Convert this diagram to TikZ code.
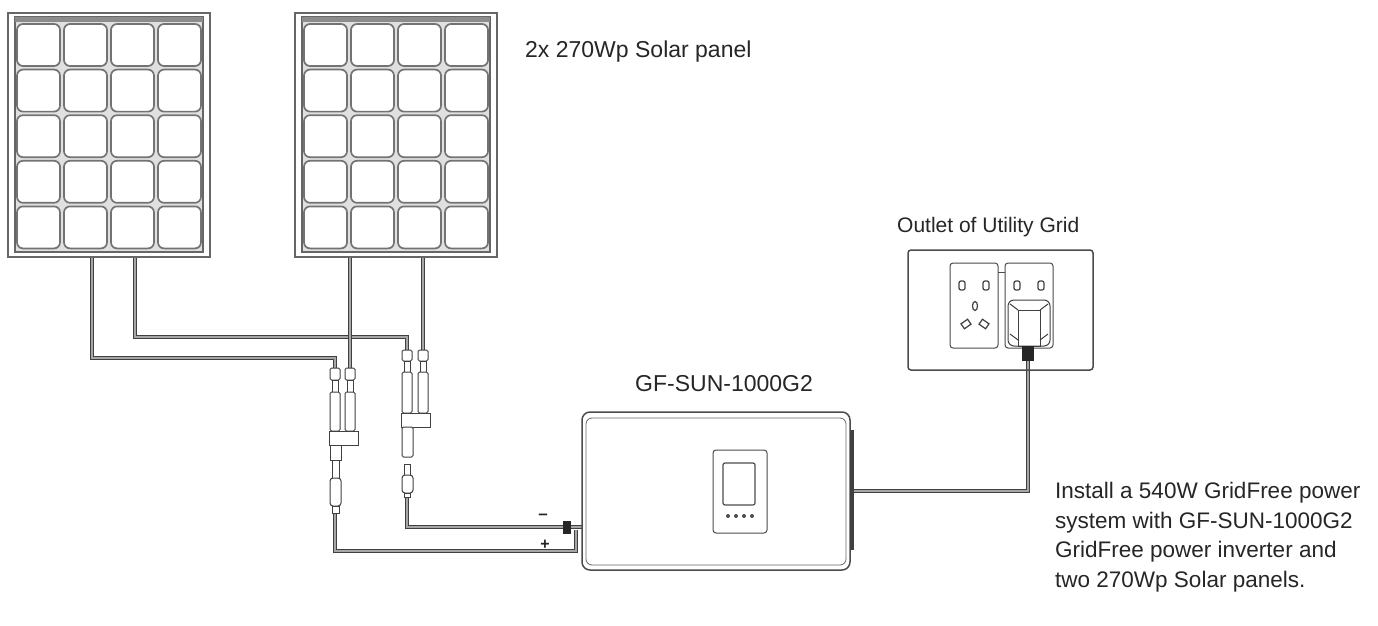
\documentclass[tikz,border=0pt]{standalone}
\usepackage{fontspec}
\setmainfont{Liberation Sans}
\tikzset{
  frame/.style={draw=black!60, line width=1.5pt},
  cell/.style={draw=black!55, line width=1.7pt, fill=white, rounded corners=6pt},
  cable/.style={draw=black!75, line width=1pt, double=black!35, double distance=2.4pt},
  plug/.style={draw=black!75, line width=1pt, fill=white},
  label/.style={text=black!85, inner sep=0pt, anchor=base west},
}
% one panel of 4 x 5 cells, placed by its top left corner
\newcommand{\solarpanel}[2]{%
  \begin{scope}[shift={(#1,#2)}]
    \draw[frame] (0,0) rectangle (202,244);
    \draw[frame, fill=black!12] (7,4) rectangle (195,239);
    \fill[black!45] (7,4) rectangle (195,9);
    \foreach \c in {0,...,3}{
      \foreach \r in {0,...,4}{
        \draw[cell] ({9+47*\c},{11+45.6*\r}) rectangle ++(43,42);
      }
    }
  \end{scope}}
\begin{document}
\begin{tikzpicture}[x=1pt,y=-1pt]
\useasboundingbox[fill=white] (0,0) rectangle (1378,626);

% cable ends
\coordinate (p1neg) at (92,257);
\coordinate (p1pos) at (135,257);
\coordinate (p2neg) at (350,257);
\coordinate (p2pos) at (423,257);
\coordinate (yneg1) at (335,368);
\coordinate (yneg2) at (350,368);
\coordinate (ypos1) at (407,350);
\coordinate (ypos2) at (423,350);
\coordinate (negout) at (335,513);
\coordinate (posout) at (407,497);
\coordinate (jack) at (567,527);
\coordinate (invin) at (582,527);
\coordinate (invout) at (852,491);
\coordinate (plugcord) at (1028,360);

% cables
\draw[cable] (p1pos) |- (407,337) -- (ypos1);
\draw[cable] (p1neg) |- (335,358) -- (yneg1);
\draw[cable] (p2neg) -- (yneg2);
\draw[cable] (p2pos) -- (ypos2);
\draw[cable] (posout) |- (jack);
\draw[cable] (jack) -- (invin);
\draw[cable] (negout) |- (576,551) -- (576,530);
\draw[cable] (invout) -| (plugcord);

% panels
\solarpanel{8}{13}
\solarpanel{295}{13}
\node[label, font=\fontsize{23}{27}\selectfont] (panellabel) at (525,57) {2x 270Wp Solar panel};

% Y branch of the minus side
\foreach \x in {335,350}{
  \draw[plug, rounded corners=1.5pt] (\x-5,368) rectangle (\x+5,380);
  \draw[plug] (\x-3,380) rectangle (\x+3,392);
  \draw[plug, rounded corners=1.5pt] (\x-5,392) rectangle (\x+5,431);
}
\draw[plug] (329,431) rectangle (358,445);
\draw[plug] (330,445) rectangle (341,460);
\draw[plug] (332,460) rectangle (339,478);
\draw[plug, rounded corners=3pt] (330,478) rectangle (341,506);
\draw[plug] (332,506) rectangle (339,513);

% Y branch of the plus side
\foreach \x in {407,423}{
  \draw[plug, rounded corners=1.5pt] (\x-5,350) rectangle (\x+5,361);
  \draw[plug] (\x-3,361) rectangle (\x+3,372);
  \draw[plug, rounded corners=1.5pt] (\x-5,372) rectangle (\x+5,413);
}
\draw[plug] (401,413) rectangle (430,427);
\draw[plug, rounded corners=1.5pt] (402,427) rectangle (413,457);
\draw[plug] (404,464) rectangle (410,475);
\draw[plug, rounded corners=3pt] (402,475) rectangle (413,493);
\draw[plug] (404,493) rectangle (410,497);

% inverter
\draw[frame, draw=black!70, fill=white, rounded corners=8pt] (582,412) rectangle (850,570);
\draw[draw=black!60, line width=0.8pt, rounded corners=6pt] (586,418) rectangle (846,565);
\fill[black!75] (850,430) rectangle (853.5,550);
\draw[draw=black!70, line width=1pt, rounded corners=3pt] (713,450) rectangle (767,533);
\draw[draw=black!70, line width=1.2pt, rounded corners=2pt] (723,463) rectangle (755,505);
\foreach \x in {728,736,744,752}{
  \fill[black!70] (\x,516) circle (2pt);
}
\fill[black!85] (563,521) rectangle (571,534);
\node[label, font=\fontsize{23}{27}\selectfont] (invlabel) at (635,391) {GF-SUN-1000G2};
\node[font=\fontsize{17}{20}\selectfont\bfseries, text=black!85] (minus) at (543,517) {--};
\node[font=\fontsize{16}{20}\selectfont\bfseries, text=black!85] (plus) at (545,545) {+};

% outlet of the grid
\draw[frame, draw=black!70, rounded corners=3pt] (908,250) rectangle (1093,370);
\draw[black!70, line width=1pt, rounded corners=3pt] (950,263) rectangle (998,348);
\draw[black!70, line width=1pt, rounded corners=3pt] (1005,263) rectangle (1053,348);
\draw[black!70, line width=1pt] (998,272) -- (1005,272);
\foreach \x in {962,986,1017,1041}{
  \draw[black!75, line width=1.2pt, rounded corners=2pt] (\x-3,281) rectangle (\x+3,290);
}
\draw[black!75, line width=1.2pt] (975,306) ellipse (2.5pt and 4.5pt);
\draw[black!75, line width=1.2pt, rotate around={35:(966,324)}] (962,321) rectangle (970,327);
\draw[black!75, line width=1.2pt, rotate around={-35:(984,324)}] (980,321) rectangle (988,327);
% plug in the right socket
\draw[plug, rounded corners=6pt] (1008,300) rectangle (1050,346);
\draw[black!75, line width=1pt] (1018,310) rectangle (1040,346);
\draw[black!75, line width=1pt] (1010,304) -- (1018,310) (1048,304) -- (1040,310)
  (1010,334) -- (1018,340) (1048,334) -- (1040,340);
\fill[black!85] (1022,346) rectangle (1034,361);
\node[label, font=\fontsize{21}{25}\selectfont] (gridlabel) at (897,232) {Outlet of Utility Grid};

% description
\node[text=black!85, inner sep=0pt, anchor=north west, align=left,
  font=\fontsize{22.5}{29.5}\selectfont] (note) at (1055,482)
  {Install a 540W GridFree power\\system with GF-SUN-1000G2\\GridFree power inverter and\\two 270Wp Solar panels.};
\end{tikzpicture}
\end{document}
